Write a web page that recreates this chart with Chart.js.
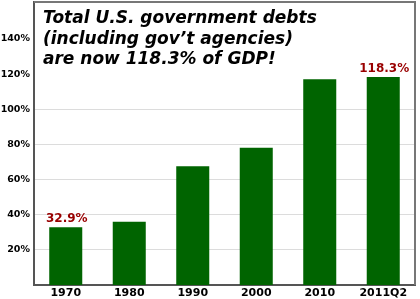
<!DOCTYPE html>
<html>
<head>
<meta charset="utf-8">
<script src="https://cdn.jsdelivr.net/npm/chart.js@4.4.1/dist/chart.umd.min.js"></script>
<style>
  html, body { margin: 0; padding: 0; background: #fff; }
  #wrap { width: 420px; height: 299px; }
</style>
</head>
<body>
<div id="wrap"><canvas id="debtChart" width="420" height="299"></canvas></div>
<script>
// chart data
const years = ["1970", "1980", "1990", "2000", "2010", "2011Q2"];
const debtPct = [32.9, 36, 67.6, 78.1, 117, 118.3];
const yTicks = [20, 40, 60, 80, 100, 120, 140];
const labelled = { 0: "32.9%", 5: "118.3%" };
const titleLines = ["Total U.S. government debts", "(including gov\u2019t agencies)", "are now 118.3% of GDP!"];

const FONT = "'DejaVu Sans', Verdana, sans-serif";

// draws the box border, the title and the two value labels
const overlay = {
  id: "overlay",
  afterDraw(chart) {
    const ctx = chart.ctx;
    const area = chart.chartArea;
    ctx.save();

    // top and right edge of the plot box
    ctx.strokeStyle = "#777";
    ctx.lineWidth = 2;
    ctx.beginPath();
    ctx.moveTo(area.left, area.top);
    ctx.lineTo(area.right, area.top);
    ctx.lineTo(area.right, area.bottom);
    ctx.stroke();

    // title
    ctx.fillStyle = "#000";
    ctx.font = "italic bold 17px " + FONT;
    ctx.textAlign = "left";
    ctx.textBaseline = "alphabetic";
    titleLines.forEach((line, i) => {
      ctx.fillText(line, 43, 23 + i * 20.5);
    });

    // value labels above bars
    const meta = chart.getDatasetMeta(0);
    ctx.fillStyle = "#990000";
    ctx.font = "bold 12px " + FONT;
    ctx.textAlign = "center";
    ctx.textBaseline = "bottom";
    Object.keys(labelled).forEach(i => {
      const bar = meta.data[i];
      ctx.fillText(labelled[i], bar.x + 1, bar.y - 2);
    });
    ctx.restore();
  }
};

new Chart(document.getElementById("debtChart").getContext("2d"), {
  type: "bar",
  data: {
    labels: years,
    datasets: [{
      data: debtPct,
      backgroundColor: "#006400",
      categoryPercentage: 1,
      barPercentage: 0.52
    }]
  },
  options: {
    responsive: false,
    animation: false,
    layout: { padding: { top: 2, right: 5, left: 0, bottom: 0 } },
    plugins: {
      legend: { display: false },
      title: { display: false },
      tooltip: { enabled: false }
    },
    scales: {
      x: {
        grid: { display: false, drawTicks: false, tickLength: 0 },
        border: { color: "#555", width: 2 },
        ticks: {
          color: "#000",
          padding: 2,
          font: { family: FONT, weight: "bold", size: 11 }
        },
        afterFit: scale => { scale.height = 14; }
      },
      y: {
        min: 0,
        max: 161,
        afterBuildTicks: scale => {
          scale.ticks = yTicks.map(v => ({ value: v }));
        },
        grid: {
          color: ctx => (ctx.tick && ctx.tick.value <= 100 ? "#dcdcdc" : "rgba(0,0,0,0)"),
          drawTicks: false
        },
        border: { color: "#555", width: 2 },
        ticks: {
          color: "#000",
          padding: 4,
          font: { family: FONT, weight: "bold", size: 9.5 },
          callback: v => v + "%"
        },
        afterFit: scale => {
          scale.width = 34;
          scale.paddingTop = 0;
          scale.paddingBottom = 0;
        }
      }
    }
  },
  plugins: [overlay]
});
</script>
</body>
</html>
